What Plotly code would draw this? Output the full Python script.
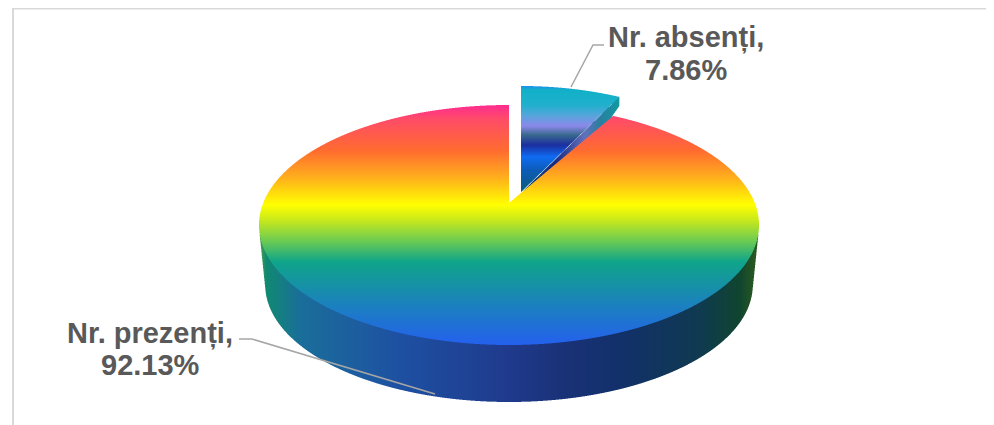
import numpy as np
import plotly.graph_objects as go

# ---- data
categories = ["Nr. absenți", "Nr. prezenți"]
percent_values = [7.86, 92.13]

# ---- style / projection constants
W, H = 994, 425
BODY = 8                                # page margin the browser puts round the figure
X0, X1, Y0, Y1 = 236, 780, 70, 414      # raster window, px
SS = 3
TOP_STOPS = [(105, "#ff2d90"), (120, "#ff4d66"), (150, "#ff6a30"), (178, "#ffb01c"), (205, "#ffff00"),
             (222, "#c0e620"), (243, "#62c858"), (262, "#0fa48a"), (300, "#1a85b8"), (345, "#2460ee")]
WEDGE_STOPS = [(86, "#1e90e8"), (90, "#10b0c8"), (105, "#20b0cc"), (116, "#58a4dc"), (126, "#8c88ea"),
               (135, "#38688e"), (145, "#1c2ea0"), (157, "#0f6cf2"), (170, "#0c5cb8"), (192, "#0a5a7c")]
WALL_STOPS = [(258, "#6aa838"), (266, "#108a70"), (300, "#1a6e9a"), (400, "#1e50a2"), (510, "#1f3a8c"),
              (560, "#1a3278"), (620, "#12306a"), (700, "#0f3a50"), (740, "#10452f"), (756, "#2a5a20")]
CUT_STOPS = [(522, "#084a78"), (555, "#1a2a82"), (585, "#6272ba"), (600, "#2a7ea0"), (619, "#109aa0")]
XC, KX = 509.0, 245.8
A, B, C = -78.75, 203.0, 0.1833
YVP, S_BOTTOM = 2625.0, 0.975
MAIN_EDGE_TURN = 0.02                   # perspective turn of the main body's cut edge, radians


def rgb(h):
    return [int(h[i:i + 2], 16) for i in (1, 3, 5)]


def ramp(t, stops):
    xs = [s[0] for s in stops]
    cols = np.array([rgb(s[1]) for s in stops], float)
    return np.stack([np.interp(t, xs, cols[:, i]) for i in range(3)], axis=-1)


def disc_coords(x, y):
    v = (B - y) / (C * y - A)
    u = (x - XC) * (C * v + 1) / KX
    return u, v


px = X0 + (np.arange((X1 - X0) * SS) + 0.5) / SS
py = Y0 + (np.arange((Y1 - Y0) * SS) + 0.5) / SS
gx, gy = np.meshgrid(px, py)
canvas = np.ones(gx.shape + (3,)) * 255.0
share = percent_values[0] / sum(percent_values) * 2 * np.pi

# exploded slice: main projection moved and stretched
wx = (gx - 522) * 99 / 97 + 510
wy = (gy - 192) * 98 / 106 + 203
u, v = disc_coords(wx, wy)
theta = np.arctan2(u, v) % (2 * np.pi)
wedge = (u ** 2 + v ** 2 <= 1) & (theta < share)

# cut face under the slice edge
tip_u, tip_v = np.sin(share), np.cos(share)
tip_x = XC + KX * tip_u / (C * tip_v + 1)
tip_y = (A * tip_v + B) / (C * tip_v + 1)
rx = (tip_x - 510) * 97 / 99 + 522
ry = (tip_y - 203) * 106 / 98 + 192
edge_y = 192 + (gx - 522) * (ry - 192) / (rx - 522)
cut = (gx >= 522) & (gx <= rx) & (gy >= edge_y) & (gy <= edge_y + 22) & (gx <= rx - np.clip(gy - 106, 0, None) * 0.7)
canvas[cut] = ramp(gx[cut], CUT_STOPS)
canvas[wedge] = ramp(gy[wedge], WEDGE_STOPS)

# wall of the main body
wall = np.zeros(gx.shape, bool)
for s in np.linspace(S_BOTTOM, 1.0, 50):
    ex = XC + (gx - XC) / s
    ey = YVP + (gy - YVP) / s
    uu, vv = disc_coords(ex, ey)
    wall |= (uu ** 2 + vv ** 2 <= 1)
wall &= gy > 225
canvas[wall] = ramp(gx[wall], WALL_STOPS)

# top of the main body
u, v = disc_coords(gx, gy)
theta = np.arctan2(u, v) % (2 * np.pi)
top = (u ** 2 + v ** 2 <= 1) & (theta >= share + MAIN_EDGE_TURN)
canvas[top] = ramp(gy[top], TOP_STOPS)

h, w = canvas.shape[:2]
small = canvas.reshape(h // SS, SS, w // SS, SS, 3).mean(axis=(1, 3))
img = np.round(small).astype(int).tolist()

fig = go.Figure()
fig.add_trace(go.Image(z=img, x0=X0 + 0.5, y0=Y0 + 0.5, dx=1, dy=1, colormodel="rgb", hoverinfo="skip"))
leaders = [([571, 593, 604], [87, 45, 45]), ([239, 252, 435], [339, 339, 394])]
for lx, ly in leaders:
    fig.add_trace(go.Scatter(x=lx, y=ly, mode="lines", line=dict(color="#a6a6a6", width=1.5), hoverinfo="skip"))

label_pos = [(686, 37, 70), (150, 333, 365)]
for name, val, (ax, ay1, ay2) in zip(categories, percent_values, label_pos):
    for text, ay in ((f"{name},", ay1), (f"{val:.2f}%", ay2)):
        fig.add_annotation(x=ax, y=ay, text=f"<b>{text}</b>", showarrow=False,
                           font=dict(family="Liberation Sans", size=29, color="#595959"))

# chart frame
fig.add_shape(type="line", x0=13, x1=13, y0=8.5, y1=425, line=dict(color="#d9d9d9", width=2))
fig.add_shape(type="line", x0=12, x1=W, y0=8.5, y1=8.5, line=dict(color="#d9d9d9", width=2))

fig.update_layout(width=W - BODY, height=H - BODY, margin=dict(l=0, r=0, t=0, b=0), showlegend=False,
                  paper_bgcolor="white", plot_bgcolor="white",
                  xaxis=dict(range=[BODY, W], visible=False, fixedrange=True),
                  yaxis=dict(range=[H, BODY], visible=False, fixedrange=True, autorange=False))
fig.write_html("out.html")
